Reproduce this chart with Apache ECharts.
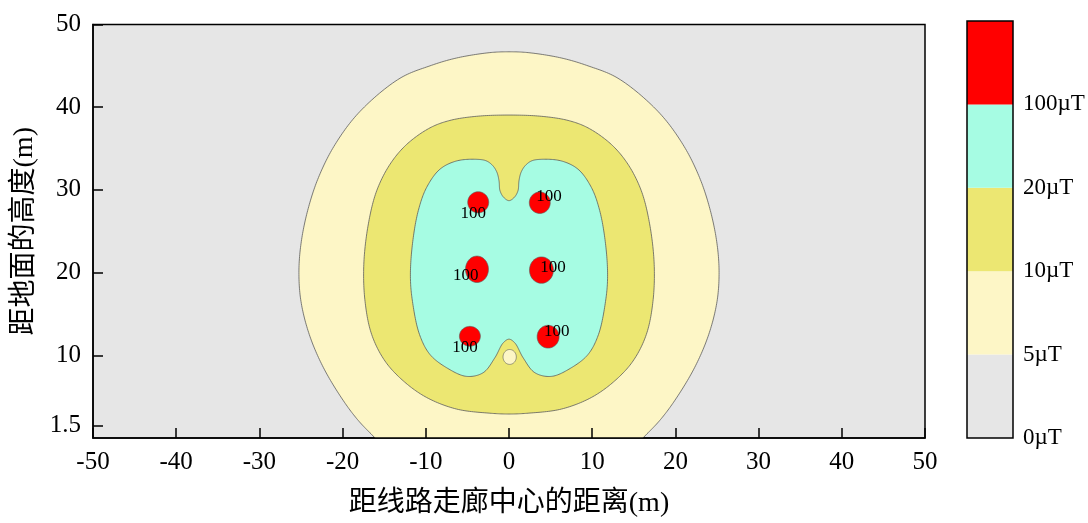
<!DOCTYPE html>
<html>
<head>
<meta charset="utf-8">
<script src="https://cdn.jsdelivr.net/npm/echarts@6/dist/echarts.min.js"></script>
<style>html,body{margin:0;padding:0;background:#fff}#c{width:1088px;height:523px}</style>
</head>
<body>
<div id="c"></div>
<script>
// ---- data ----
const xRange = [-50, 50];
const yRange = [0, 50];
const yTickValues = [1.5, 10, 20, 30, 40, 50];
const levelLabels = ['0µT', '5µT', '10µT', '20µT', '100µT'];
const levelColors = ['#E6E6E6', '#FDF6C6', '#ECE772', '#A6FCE3', '#FF0000'];

// 5 µT contour (outer boundary), [x, y]; it continues just below the ground line
const contour5 = [
  [0, 46.7], [-2.3, 46.6], [-6.3, 45.95], [-9.5, 45.0], [-13.1, 43.5], [-17.9, 39.5], [-20.9, 35.5],
  [-22.9, 31.5], [-24.2, 27.5], [-25.0, 23.5], [-25.25, 20.0], [-25.0, 16.5], [-24.0, 12.5], [-22.3, 8.5],
  [-19.9, 4.5], [-18.1, 2.1], [-16.1, 0], [-14.6, -1.6],
  [14.6, -1.6], [16.1, 0], [18.1, 2.1], [19.9, 4.5], [22.3, 8.5], [24.0, 12.5], [25.0, 16.5],
  [25.25, 20.0], [25.0, 23.5], [24.2, 27.5], [22.9, 31.5], [20.9, 35.5], [17.9, 39.5], [13.1, 43.5],
  [9.5, 45.0], [6.3, 45.95], [2.3, 46.6]
];
// 10 µT contour
const contour10 = [
  [0, 39.05], [-3.9, 38.9], [-7.1, 38.4], [-9.5, 37.5], [-12.3, 35.5], [-14.3, 33.1], [-15.9, 29.9],
  [-16.9, 25.9], [-17.45, 21.0], [-17.3, 16.5], [-16.5, 12.5], [-14.9, 9.3], [-12.7, 6.9], [-9.9, 4.9],
  [-6.3, 3.5], [-2.3, 3.0], [0, 2.9], [2.3, 3.0], [6.3, 3.5], [9.9, 4.9], [12.7, 6.9], [14.9, 9.3],
  [16.5, 12.5], [17.3, 16.5], [17.45, 21.0], [16.9, 25.9], [15.9, 29.9], [14.3, 33.1], [12.3, 35.5],
  [9.5, 37.5], [7.1, 38.4], [3.9, 38.9]
];
// 20 µT contour
const contour20 = [
  [0, 28.7], [-0.64, 29.1], [-1.08, 29.9], [-1.2, 31.1], [-1.44, 32.1], [-1.92, 32.9], [-2.7, 33.5],
  [-3.9, 33.7], [-6.3, 33.5], [-8.3, 32.5], [-9.9, 30.3], [-10.9, 27.5], [-11.6, 23.5], [-11.85, 19.5],
  [-11.6, 16.5], [-10.75, 12.5], [-9.5, 10.1], [-7.5, 8.5], [-5.1, 7.45], [-3.1, 7.9], [-1.7, 9.7],
  [-0.7, 11.5], [0, 11.95],
  [0.7, 11.5], [1.7, 9.7], [3.1, 7.9], [5.1, 7.45], [7.5, 8.5], [9.5, 10.1], [10.75, 12.5], [11.6, 16.5],
  [11.85, 19.5], [11.6, 23.5], [10.9, 27.5], [9.9, 30.3], [8.3, 32.5], [6.3, 33.5], [3.9, 33.7],
  [2.7, 33.5], [1.92, 32.9], [1.44, 32.1], [1.2, 31.1], [1.08, 29.9], [0.64, 29.1]
];
// local minimum (5-10 µT island): [cx, cy, rx, ry]
const lowSpots = [[0.08, 9.8, 0.8, 0.9]];
// 100 µT regions around conductors: [cx, cy, rx, ry]
const peaks100 = [
  [-3.7, 28.5, 1.26, 1.28], [3.7, 28.45, 1.26, 1.3],
  [-3.85, 20.4, 1.38, 1.6], [3.9, 20.3, 1.44, 1.6],
  [-4.7, 12.3, 1.26, 1.2], [4.7, 12.25, 1.32, 1.38]
];
// contour labels: [x, y, text]
const peakLabels = [
  [-4.3, 27.2, '100'], [4.8, 29.2, '100'],
  [-5.2, 19.6, '100'], [5.3, 20.65, '100'],
  [-5.3, 10.9, '100'], [5.75, 12.9, '100']
];

// ---- chart ----
const serif = "'Liberation Serif', 'Times New Roman', serif";
const cjk = "'Liberation Serif', 'Noto Sans CJK SC', serif";
const lineColor = '#5c5c5c';

// centripetal Catmull-Rom through pixel points (closed ring)
function smoothRing(P, n) {
  const out = [];
  const L = P.length;
  function d(a, b) { return Math.max(Math.pow(Math.hypot(b[0] - a[0], b[1] - a[1]), 0.5), 1e-4); }
  function lerp(a, b, ta, tb, t) {
    const w = (t - ta) / (tb - ta);
    return [a[0] + (b[0] - a[0]) * w, a[1] + (b[1] - a[1]) * w];
  }
  for (let i = 0; i < L; i++) {
    const p0 = P[(i - 1 + L) % L], p1 = P[i], p2 = P[(i + 1) % L], p3 = P[(i + 2) % L];
    const t0 = 0, t1 = t0 + d(p0, p1), t2 = t1 + d(p1, p2), t3 = t2 + d(p2, p3);
    for (let k = 0; k < n; k++) {
      const t = t1 + (t2 - t1) * k / n;
      const A1 = lerp(p0, p1, t0, t1, t), A2 = lerp(p1, p2, t1, t2, t), A3 = lerp(p2, p3, t2, t3, t);
      const B1 = lerp(A1, A2, t0, t2, t), B2 = lerp(A2, A3, t1, t3, t);
      out.push(lerp(B1, B2, t1, t2, t));
    }
  }
  return out;
}

function ringSeries(ring, fill, z) {
  return {
    type: 'custom', coordinateSystem: 'cartesian2d', xAxisIndex: 0, yAxisIndex: 0,
    clip: true, silent: true, z: z,
    data: [[ring[0][0], ring[0][1]]],
    renderItem: function (params, api) {
      const px = ring.map(function (p) { return api.coord(p); });
      return {
        type: 'polygon',
        shape: { points: smoothRing(px, 16) },
        style: { fill: fill, stroke: lineColor, lineWidth: 0.8 }
      };
    }
  };
}
function ellipseSeries(list, fill, z) {
  return {
    type: 'custom', coordinateSystem: 'cartesian2d', xAxisIndex: 0, yAxisIndex: 0,
    clip: true, silent: true, z: z,
    data: list,
    renderItem: function (params, api) {
      const cx = api.value(0), cy = api.value(1), rx = api.value(2), ry = api.value(3);
      const pts = [];
      for (let k = 0; k < 48; k++) {
        const t = k / 48 * Math.PI * 2;
        pts.push(api.coord([cx + rx * Math.cos(t), cy + ry * Math.sin(t)]));
      }
      return { type: 'polygon', shape: { points: pts }, style: { fill: fill, stroke: lineColor, lineWidth: 0.6 } };
    }
  };
}

const chart = echarts.init(document.getElementById('c'), null, { renderer: 'canvas' });
chart.setOption({
  animation: false,
  backgroundColor: '#ffffff',
  grid: [
    { left: 93, right: 163, top: 24.5, bottom: 82, show: true, backgroundColor: levelColors[0], borderColor: '#000', borderWidth: 1.5, containLabel: false },
    { left: 967, width: 46, top: 21, bottom: 85, show: false }
  ],
  xAxis: [
    {
      gridIndex: 0, type: 'value', min: xRange[0], max: xRange[1], interval: 10, z: 10,
      name: '距线路走廊中心的距离(m)', nameLocation: 'middle', nameGap: 52,
      nameTextStyle: { fontFamily: cjk, fontSize: 28, color: '#000' },
      axisLine: { show: true, onZero: false, lineStyle: { color: '#000', width: 1.5 } },
      axisTick: { show: true, inside: true, length: 10, lineStyle: { color: '#000', width: 1.5 } },
      axisLabel: { color: '#000', fontFamily: serif, fontSize: 25, margin: 12 },
      splitLine: { show: false }
    },
    { gridIndex: 1, type: 'value', min: 0, max: 1, show: false }
  ],
  yAxis: [
    {
      gridIndex: 0, type: 'value', min: yRange[0], max: yRange[1], z: 10,
      name: '距地面的高度(m)', nameLocation: 'middle', nameGap: 53,
      nameTextStyle: { fontFamily: cjk, fontSize: 28, color: '#000' },
      axisLine: { show: true, onZero: false, lineStyle: { color: '#000', width: 1.5 } },
      axisTick: { show: true, inside: true, length: 10, customValues: yTickValues, lineStyle: { color: '#000', width: 1.5 } },
      axisLabel: { color: '#000', fontFamily: serif, fontSize: 25, margin: 12, customValues: yTickValues },
      splitLine: { show: false }
    },
    {
      gridIndex: 1, type: 'value', min: 0, max: levelLabels.length, interval: 1, position: 'right',
      axisLine: { show: false }, axisTick: { show: false }, splitLine: { show: false },
      axisLabel: {
        color: '#000', fontFamily: serif, fontSize: 23, margin: 10,
        formatter: function (v) { return levelLabels[Math.round(v)]; }
      }
    }
  ],
  series: [
    ringSeries(contour5, levelColors[1], 2),
    ringSeries(contour10, levelColors[2], 3),
    ringSeries(contour20, levelColors[3], 4),
    ellipseSeries(lowSpots, levelColors[1], 5),
    ellipseSeries(peaks100, levelColors[4], 6),
    {
      type: 'custom', coordinateSystem: 'cartesian2d', xAxisIndex: 0, yAxisIndex: 0, z: 7, silent: true,
      data: peakLabels,
      renderItem: function (params, api) {
        const p = api.coord([api.value(0), api.value(1)]);
        return { type: 'text', x: p[0], y: p[1], style: { text: peakLabels[params.dataIndex][2], fontFamily: serif, fontSize: 17, fill: '#000', align: 'center', verticalAlign: 'middle' } };
      }
    },
    {
      type: 'custom', coordinateSystem: 'cartesian2d', xAxisIndex: 1, yAxisIndex: 1, z: 2, silent: true,
      data: levelColors.map(function (c, i) { return [i]; }),
      renderItem: function (params, api) {
        const i = api.value(0);
        const a = api.coord([0, i + 1]), b = api.coord([1, i]);
        return { type: 'rect', shape: { x: a[0], y: a[1], width: b[0] - a[0], height: b[1] - a[1] }, style: { fill: levelColors[i] } };
      }
    },
    {
      type: 'custom', coordinateSystem: 'cartesian2d', xAxisIndex: 1, yAxisIndex: 1, z: 3, silent: true,
      data: [[0, levelLabels.length]],
      renderItem: function (params, api) {
        const a = api.coord([0, api.value(1)]), b = api.coord([1, api.value(0)]);
        return { type: 'rect', shape: { x: a[0], y: a[1], width: b[0] - a[0], height: b[1] - a[1] }, style: { fill: 'none', stroke: '#000', lineWidth: 1.5 } };
      }
    }
  ]
});
</script>
</body>
</html>
